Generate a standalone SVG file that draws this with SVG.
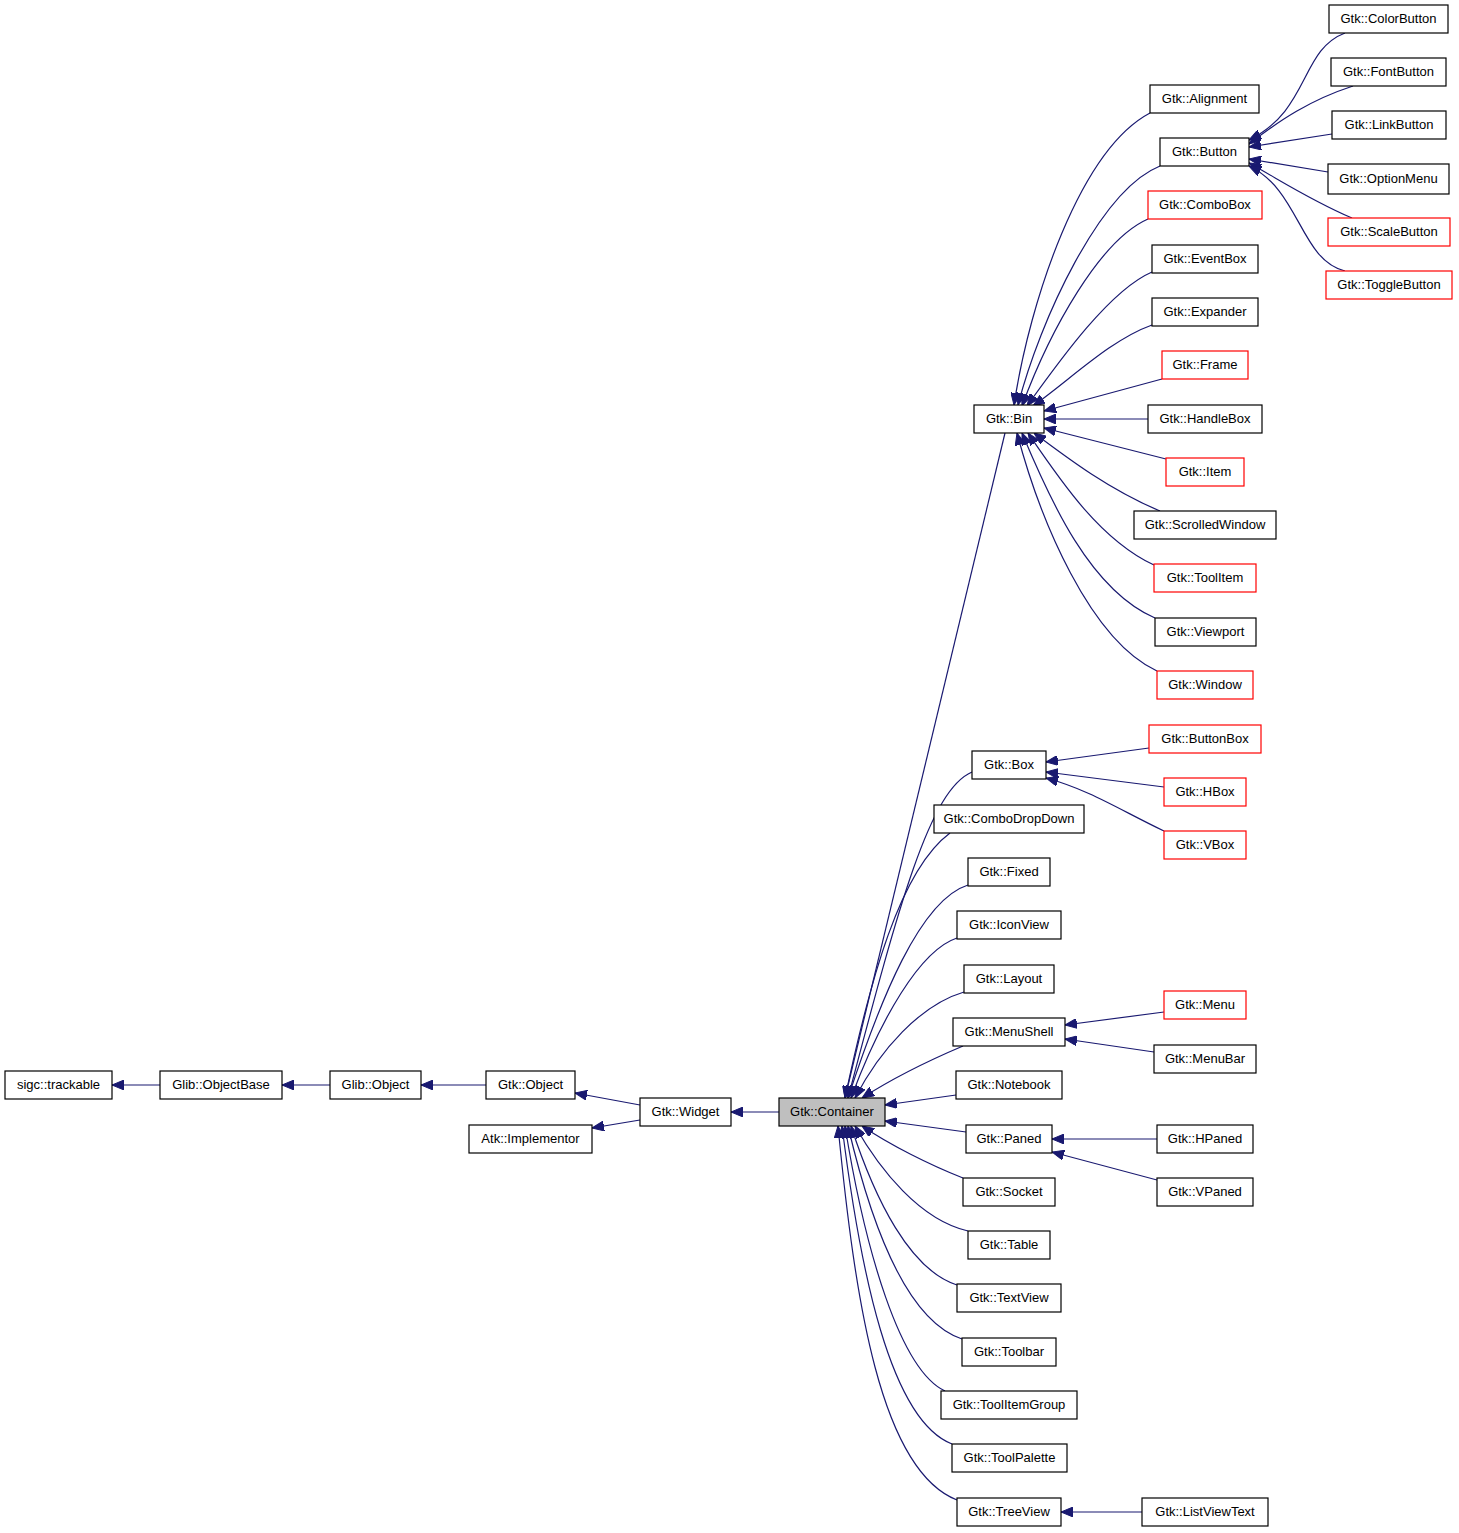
<svg xmlns="http://www.w3.org/2000/svg" width="1459" height="1533" viewBox="0 0 1459 1533">
<style>
rect{fill:#fff;stroke:#000;stroke-width:1.2}
rect.r{stroke:#f00}
rect.g{fill:#bfbfbf}
text{font-family:"Liberation Sans",Arial,sans-serif;font-size:13px;text-anchor:middle}
#edges path{fill:none;stroke:#191970;stroke-width:1.2;marker-end:url(#a)}
</style>
<defs><marker id="a" markerUnits="userSpaceOnUse" markerWidth="12" markerHeight="10" refX="12" refY="5" orient="auto"><path d="M0,0 L12,5 L0,10 z" fill="#191970" stroke="#191970"/></marker></defs>
<rect x="0" y="0" width="1459" height="1533" style="stroke:none"/>
<g id="edges">
<path d="M160,1085 L112,1085"/><path d="M330,1085 L282,1085"/><path d="M486,1085 L421,1085"/>
<path d="M640,1105 L575,1093"/><path d="M640,1120 L592,1128"/><path d="M779,1112 L731,1112"/>
<path d="M1150,113 C1080,150 1030,300 1014,405"/>
<path d="M1160,166 C1100,190 1040,320 1018,405"/>
<path d="M1148,219 C1100,240 1050,330 1022,406"/>
<path d="M1152,272 C1110,290 1060,360 1027,406"/>
<path d="M1152,325 C1110,340 1070,380 1033,406"/>
<path d="M1162,379 L1044,411"/><path d="M1148,419 L1044,419"/><path d="M1166,459 L1044,428"/>
<path d="M1160,511 C1110,490 1070,460 1034,433"/>
<path d="M1154,565 C1100,540 1060,480 1028,433"/>
<path d="M1155,618 C1090,590 1050,500 1022,433"/>
<path d="M1157,671 C1090,640 1040,520 1017,433"/>
<path d="M1005,433 L845,1098"/>
<path d="M972,772 C930,790 900,900 848,1098"/>
<path d="M950,833 C900,870 870,980 845,1098"/>
<path d="M968,885 C920,900 880,1000 848,1098"/>
<path d="M957,938 C920,950 880,1020 851,1098"/>
<path d="M964,992 C920,1005 880,1050 855,1098"/>
<path d="M963,1046 C930,1060 890,1080 862,1098"/>
<path d="M956,1095 L885,1105"/><path d="M966,1132 L885,1121"/>
<path d="M963,1178 C930,1165 890,1145 862,1126"/>
<path d="M968,1231 C920,1220 880,1170 855,1126"/>
<path d="M957,1285 C910,1270 875,1200 851,1126"/>
<path d="M962,1339 C905,1320 870,1220 848,1126"/>
<path d="M945,1391 C900,1370 865,1250 845,1126"/>
<path d="M952,1444 C890,1420 860,1270 842,1126"/>
<path d="M957,1500 C880,1470 855,1300 838,1126"/>
<path d="M1149,748 L1046,762"/><path d="M1164,787 L1046,772"/>
<path d="M1164,831 C1120,810 1090,790 1046,778"/>
<path d="M1164,1012 L1065,1025"/><path d="M1154,1052 L1065,1039"/>
<path d="M1157,1139 L1052,1139"/><path d="M1157,1180 L1052,1152"/>
<path d="M1142,1512 L1061,1512"/>
<path d="M1345,33 C1300,50 1310,110 1249,140"/>
<path d="M1353,86 C1310,100 1280,120 1249,144"/>
<path d="M1332,134 L1249,147"/><path d="M1328,172 L1249,159"/>
<path d="M1352,218 C1310,200 1280,180 1249,163"/>
<path d="M1345,271 C1300,260 1300,190 1249,166"/>
</g>
<g id="n1"><rect x="5" y="1071" width="107" height="28"/><text x="58.5" y="1089">sigc::trackable</text></g>
<g id="n2"><rect x="160" y="1071" width="122" height="28"/><text x="221" y="1089">Glib::ObjectBase</text></g>
<g id="n3"><rect x="330" y="1071" width="91" height="28"/><text x="375.5" y="1089">Glib::Object</text></g>
<g id="n4"><rect x="486" y="1071" width="89" height="28"/><text x="530.5" y="1089">Gtk::Object</text></g>
<g id="n5"><rect x="469" y="1125" width="123" height="28"/><text x="530.5" y="1143">Atk::Implementor</text></g>
<g id="n6"><rect x="640" y="1098" width="91" height="28"/><text x="685.5" y="1116">Gtk::Widget</text></g>
<g id="n7"><rect class="g" x="779" y="1098" width="106" height="28"/><text x="832" y="1116">Gtk::Container</text></g>
<g id="n8"><rect x="974" y="405" width="70" height="28"/><text x="1009" y="423">Gtk::Bin</text></g>
<g id="n9"><rect x="972" y="751" width="74" height="28"/><text x="1009" y="769">Gtk::Box</text></g>
<g id="n10"><rect x="934" y="805" width="150" height="28"/><text x="1009" y="823">Gtk::ComboDropDown</text></g>
<g id="n11"><rect x="968" y="858" width="82" height="28"/><text x="1009" y="876">Gtk::Fixed</text></g>
<g id="n12"><rect x="957" y="911" width="104" height="28"/><text x="1009" y="929">Gtk::IconView</text></g>
<g id="n13"><rect x="964" y="965" width="90" height="28"/><text x="1009" y="983">Gtk::Layout</text></g>
<g id="n14"><rect x="953" y="1018" width="112" height="28"/><text x="1009" y="1036">Gtk::MenuShell</text></g>
<g id="n15"><rect x="956" y="1071" width="106" height="28"/><text x="1009" y="1089">Gtk::Notebook</text></g>
<g id="n16"><rect x="966" y="1125" width="86" height="28"/><text x="1009" y="1143">Gtk::Paned</text></g>
<g id="n17"><rect x="963" y="1178" width="92" height="28"/><text x="1009" y="1196">Gtk::Socket</text></g>
<g id="n18"><rect x="968" y="1231" width="82" height="28"/><text x="1009" y="1249">Gtk::Table</text></g>
<g id="n19"><rect x="957" y="1284" width="104" height="28"/><text x="1009" y="1302">Gtk::TextView</text></g>
<g id="n20"><rect x="962" y="1338" width="94" height="28"/><text x="1009" y="1356">Gtk::Toolbar</text></g>
<g id="n21"><rect x="941" y="1391" width="136" height="28"/><text x="1009" y="1409">Gtk::ToolItemGroup</text></g>
<g id="n22"><rect x="952" y="1444" width="115" height="28"/><text x="1009.5" y="1462">Gtk::ToolPalette</text></g>
<g id="n23"><rect x="957" y="1498" width="104" height="28"/><text x="1009" y="1516">Gtk::TreeView</text></g>
<g id="n24"><rect x="1150" y="85" width="109" height="28"/><text x="1204.5" y="103">Gtk::Alignment</text></g>
<g id="n25"><rect x="1160" y="138" width="89" height="28"/><text x="1204.5" y="156">Gtk::Button</text></g>
<g id="n26"><rect class="r" x="1148" y="191" width="114" height="28"/><text x="1205" y="209">Gtk::ComboBox</text></g>
<g id="n27"><rect x="1152" y="245" width="106" height="28"/><text x="1205" y="263">Gtk::EventBox</text></g>
<g id="n28"><rect x="1152" y="298" width="106" height="28"/><text x="1205" y="316">Gtk::Expander</text></g>
<g id="n29"><rect class="r" x="1162" y="351" width="86" height="28"/><text x="1205" y="369">Gtk::Frame</text></g>
<g id="n30"><rect x="1148" y="405" width="114" height="28"/><text x="1205" y="423">Gtk::HandleBox</text></g>
<g id="n31"><rect class="r" x="1166" y="458" width="78" height="28"/><text x="1205" y="476">Gtk::Item</text></g>
<g id="n32"><rect x="1134" y="511" width="142" height="28"/><text x="1205" y="529">Gtk::ScrolledWindow</text></g>
<g id="n33"><rect class="r" x="1154" y="564" width="102" height="28"/><text x="1205" y="582">Gtk::ToolItem</text></g>
<g id="n34"><rect x="1155" y="618" width="101" height="28"/><text x="1205.5" y="636">Gtk::Viewport</text></g>
<g id="n35"><rect class="r" x="1157" y="671" width="96" height="28"/><text x="1205" y="689">Gtk::Window</text></g>
<g id="n36"><rect class="r" x="1149" y="725" width="112" height="28"/><text x="1205" y="743">Gtk::ButtonBox</text></g>
<g id="n37"><rect class="r" x="1164" y="778" width="82" height="28"/><text x="1205" y="796">Gtk::HBox</text></g>
<g id="n38"><rect class="r" x="1164" y="831" width="82" height="28"/><text x="1205" y="849">Gtk::VBox</text></g>
<g id="n39"><rect class="r" x="1164" y="991" width="82" height="28"/><text x="1205" y="1009">Gtk::Menu</text></g>
<g id="n40"><rect x="1154" y="1045" width="102" height="28"/><text x="1205" y="1063">Gtk::MenuBar</text></g>
<g id="n41"><rect x="1157" y="1125" width="96" height="28"/><text x="1205" y="1143">Gtk::HPaned</text></g>
<g id="n42"><rect x="1157" y="1178" width="96" height="28"/><text x="1205" y="1196">Gtk::VPaned</text></g>
<g id="n43"><rect x="1142" y="1498" width="126" height="28"/><text x="1205" y="1516">Gtk::ListViewText</text></g>
<g id="n44"><rect x="1329" y="5" width="119" height="28"/><text x="1388.5" y="23">Gtk::ColorButton</text></g>
<g id="n45"><rect x="1331" y="58" width="115" height="28"/><text x="1388.5" y="76">Gtk::FontButton</text></g>
<g id="n46"><rect x="1332" y="111" width="114" height="28"/><text x="1389" y="129">Gtk::LinkButton</text></g>
<g id="n47"><rect x="1328" y="164" width="121" height="30"/><text x="1388.5" y="183">Gtk::OptionMenu</text></g>
<g id="n48"><rect class="r" x="1328" y="218" width="122" height="28"/><text x="1389" y="236">Gtk::ScaleButton</text></g>
<g id="n49"><rect class="r" x="1326" y="271" width="126" height="28"/><text x="1389" y="289">Gtk::ToggleButton</text></g>
</svg>
